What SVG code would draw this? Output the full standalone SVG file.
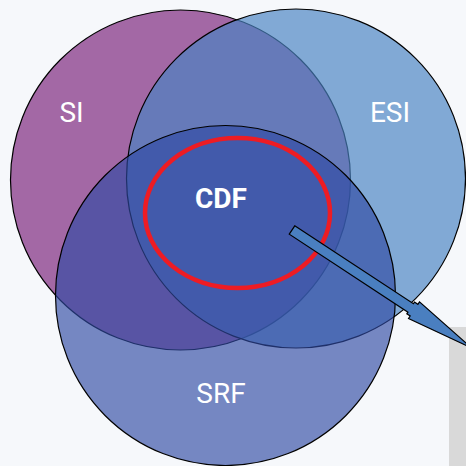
<svg xmlns="http://www.w3.org/2000/svg" width="466" height="466" viewBox="0 0 466 466">
  <style>
    .ring { stroke: #000; stroke-width: 1.2; }
    .lbl { font-family: Roboto, "Liberation Sans", sans-serif; font-size: 28px; fill: #ffffff; text-anchor: middle; }
    .bold { font-weight: bold; }
  </style>
  <rect x="0" y="0" width="466" height="466" fill="#f6f8fb"/>
  <rect x="449" y="327" width="17" height="139" fill="#d9d9d9"/>
  <g id="node-si">
    <circle class="ring" cx="180.5" cy="180" r="170" fill="#a368a5"/>
    <text class="lbl" x="71.5" y="121.5">SI</text>
  </g>
  <g id="node-esi">
    <circle class="ring" cx="296" cy="178.5" r="169.5" fill="#4983c2" fill-opacity="0.68"/>
    <text class="lbl" x="390" y="121.5">ESI</text>
  </g>
  <g id="node-srf">
    <circle class="ring" cx="225.5" cy="295.5" r="170" fill="#2f49a3" fill-opacity="0.65"/>
    <text class="lbl" x="221" y="402.5">SRF</text>
  </g>
  <g id="node-cdf">
    <ellipse cx="237.5" cy="213" rx="92.5" ry="75" fill="none" stroke="#ed1c24" stroke-width="4.5"/>
    <text class="lbl bold" x="221" y="208.3">CDF</text>
  </g>
  <g id="connectors">
    <polygon transform="translate(292,230) rotate(33.3)" points="0,-5 142,-5 142,-7 146,-7 146,-10 215,0 146,10 146,7 142,7 142,5 0,5" fill="#4a7fc0" stroke="#000" stroke-width="1.2" stroke-linejoin="miter"/>
  </g>
</svg>
